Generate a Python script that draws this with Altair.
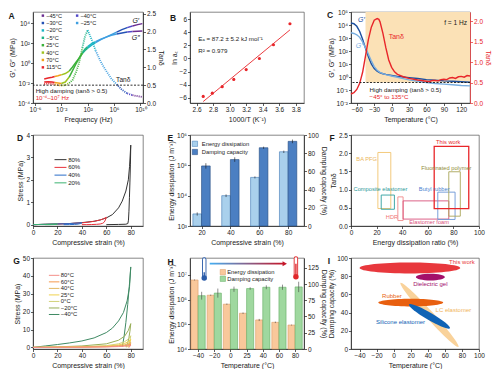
import math
import pandas as pd
import altair as alt

FONT = "Liberation Sans"
W1, W2, W3, WC, HT = 110, 114, 128, 119, 91
RED = "#e8262a"
INK = "#1a1a1a"

SUP = str.maketrans("0123456789-", "⁰¹²³⁴⁵⁶⁷⁸⁹⁻")


def pow10_label(e):
    return "10" + str(e).translate(SUP)


def log_expr(exps):
    expr = "''"
    for e in reversed(exps):
        expr = "round(log(datum.value)/LN10)==%d ? '%s' : (%s)" % (e, pow10_label(e), expr)
    return expr


def ax(**kw):
    return alt.Axis(labelOverlap=False, labelFlush=False, labelBound=False, tickCount=100, **kw)


def letter(s):
    return alt.TitleParams(text=s, anchor="start", frame="bounds", fontSize=8.5,
                           fontWeight="bold", font=FONT, dy=10, offset=0, color=INK)


def texts(rows, xs, ys, size=6.2, align="left", style="normal", weight="normal"):
    df = pd.DataFrame(rows, columns=["x", "y", "label", "color"])
    return alt.Chart(df).mark_text(align=align, baseline="middle", fontSize=size, font=FONT,
                                   fontStyle=style, fontWeight=weight).encode(
        x=alt.X("x:Q", scale=xs),
        y=alt.Y("y:Q", scale=ys),
        text="label:N",
        color=alt.Color("color:N", scale=None))


def lin(lo, hi):
    return alt.Scale(domain=[lo, hi], nice=False, zero=False)


def logs(lo, hi):
    return alt.Scale(type="log", domain=[lo, hi], nice=False)


# ======================= Panel A =======================
A_TEMPS = ["−45°C", "−40°C", "−30°C", "−25°C", "−20°C", "−5°C", "25°C", "40°C", "70°C", "115°C"]
A_COLORS = ["#6b2d90", "#5148c9", "#2452b5", "#3f9fe0", "#1db4c4", "#1fb387", "#3cb23a", "#9ec31f", "#f2a31b", "#e8262a"]
A_LOGF = [-4.6, -4.0, -3.4, -3.0, -2.5, -2.0, -1.4, -0.8, -0.3, 0.2, 0.7, 1.2, 1.6, 2.0, 2.6, 3.2, 4.0, 4.8, 5.6, 6.4, 7.2, 8.0, 8.8, 9.6, 10.3]
A_LOG_GP = [-1.6, -1.5, -1.42, -1.35, -1.27, -1.18, -1.05, -0.8, -0.4, 0.05, 0.5, 0.95, 1.25, 1.5, 1.8, 2.05, 2.35, 2.6, 2.85, 3.1, 3.35, 3.55, 3.72, 3.85, 3.95]
A_LOG_GPP = [-1.9, -1.88, -1.9, -1.95, -2.0, -2.05, -1.9, -1.4, -0.75, -0.1, 0.5, 1.05, 1.4, 1.65, 1.95, 2.15, 2.4, 2.6, 2.78, 2.92, 3.02, 3.1, 3.15, 3.18, 3.2]
A_TAN = [0.53, 0.55, 0.54, 0.52, 0.5, 0.49, 0.5, 0.56, 0.64, 0.85, 1.13, 1.55, 1.87, 2.04, 1.78, 1.47, 1.15, 0.9, 0.68, 0.52, 0.37, 0.27, 0.22, 0.19, 0.17]
A_SEG = ["115°C", "115°C", "115°C", "70°C", "70°C", "40°C", "40°C", "25°C", "25°C", "25°C", "25°C",
         "−5°C", "−5°C", "−20°C", "−20°C", "−25°C", "−25°C", "−25°C", "−25°C", "−30°C", "−30°C",
         "−40°C", "−45°C", "−45°C", "−45°C"]
A_LEG_COL1 = ["−45°C", "−30°C", "−20°C", "−5°C", "25°C", "40°C", "70°C", "115°C"]
A_LEG_COL2 = ["−40°C", "−25°C"]
A_X_EXP = [-6, -2, 2, 6, 10]
A_YL_EXP = [-4, -2, 0, 2, 4]
A_YR_TICKS = [0, 0.5, 1.0, 1.5, 2.0, 2.5]
A_CMAP = dict(zip(A_TEMPS, A_COLORS))

rows = []
for i in range(len(A_LOGF)):
    segs = [A_SEG[i]]
    if i > 0 and A_SEG[i - 1] != A_SEG[i]:
        segs.append(A_SEG[i - 1])
    for s in segs:
        rows.append({"f": 10 ** A_LOGF[i], "gp": 10 ** A_LOG_GP[i], "gpp": 10 ** A_LOG_GPP[i],
                     "tan": A_TAN[i], "seg": s, "c": A_CMAP[s], "o": i})
a_df = pd.DataFrame(rows)

a_x = logs(10 ** -6.3, 10 ** 10.4)
a_yl = logs(1e-4, 1.3e5)
a_yr = lin(0, 2.55)

a_gp = alt.Chart(a_df).mark_line(strokeWidth=1.5).encode(
    x=alt.X("f:Q", scale=a_x, axis=ax(values=[10.0 ** e for e in A_X_EXP], labelExpr=log_expr(A_X_EXP),
                                      title="Frequency (Hz)")),
    y=alt.Y("gp:Q", scale=a_yl, axis=ax(values=[10.0 ** e for e in A_YL_EXP], labelExpr=log_expr(A_YL_EXP),
                                        title="G′, G″ (MPa)", orient="left")),
    color=alt.Color("c:N", scale=None), detail="seg:N", order="o:Q")
a_gpp = alt.Chart(a_df).mark_line(strokeWidth=1.5).encode(
    x=alt.X("f:Q", scale=a_x), y=alt.Y("gpp:Q", scale=a_yl),
    color=alt.Color("c:N", scale=None), detail="seg:N", order="o:Q")

leg = []
for i, t in enumerate(A_LEG_COL1):
    leg.append({"mx": 10 ** -4.8, "tx": 10 ** -4.3, "y": 10 ** (4.75 - 0.74 * i), "label": t, "c": A_CMAP[t]})
for i, t in enumerate(A_LEG_COL2):
    leg.append({"mx": 10 ** 0.4, "tx": 10 ** 0.9, "y": 10 ** (4.75 - 0.74 * i), "label": t, "c": A_CMAP[t]})
a_leg_df = pd.DataFrame(leg)
a_leg_pt = alt.Chart(a_leg_df).mark_point(shape="square", filled=True, size=6, opacity=1).encode(
    x=alt.X("mx:Q", scale=a_x), y=alt.Y("y:Q", scale=a_yl), color=alt.Color("c:N", scale=None))
a_leg_tx = alt.Chart(a_leg_df).mark_text(align="left", baseline="middle", fontSize=5.6, font=FONT, color=INK).encode(
    x=alt.X("tx:Q", scale=a_x), y=alt.Y("y:Q", scale=a_yl), text="label:N")
a_lab = texts([(10 ** 9.3, 10 ** 4.25, "G′", INK), (10 ** 9.3, 10 ** 2.55, "G″", INK)], a_x, a_yl,
              size=7, align="center", style="italic")

a_tan = alt.Chart(a_df).mark_line(strokeWidth=1.8, strokeDash=[1, 1.1]).encode(
    x=alt.X("f:Q", scale=a_x),
    y=alt.Y("tan:Q", scale=a_yr, axis=ax(values=A_YR_TICKS, format=".1f", title="Tanδ", orient="right")),
    color=alt.Color("c:N", scale=None), detail="seg:N", order="o:Q")
a_rule = alt.Chart(pd.DataFrame({"t": [0.5]})).mark_rule(strokeDash=[2, 1.5], color=INK, strokeWidth=0.9).encode(
    y=alt.Y("t:Q", scale=a_yr))
a_rtx = texts([(10 ** -5.9, 0.33, "High damping (tanδ > 0.5)", INK),
               (10 ** -5.9, 0.13, "10⁻⁴–10⁷ Hz", RED)], a_x, a_yr, size=6.2)
a_rtx2 = texts([(10 ** 7.4, 0.64, "Tanδ", INK)], a_x, a_yr, size=6.6, align="center")

panel_a = alt.layer(
    alt.layer(a_gp, a_gpp, a_leg_pt, a_leg_tx, a_lab),
    alt.layer(a_tan, a_rule, a_rtx, a_rtx2)
).resolve_scale(y="independent").properties(width=W1, height=HT, title=letter("A"))

# ======================= Panel B =======================
B_X = [2.68, 2.79, 2.91, 3.05, 3.20, 3.36, 3.53, 3.73]
B_Y = [-5.8, -5.3, -4.3, -3.2, -1.7, 0.0, 2.1, 5.3]
B_XTICKS = [2.6, 2.8, 3.0, 3.2, 3.4, 3.6, 3.8]
B_YTICKS = [-6, -4, -2, 0, 2, 4, 6]
b_df = pd.DataFrame({"x": B_X, "y": B_Y})
b_x = lin(2.52, 3.9)
b_y = lin(-6.8, 7.1)
b_pts = alt.Chart(b_df).mark_point(filled=True, size=10, color=RED, opacity=1).encode(
    x=alt.X("x:Q", scale=b_x, axis=ax(values=B_XTICKS, format=".1f", title="1000/T (K⁻¹)")),
    y=alt.Y("y:Q", scale=b_y, axis=ax(values=B_YTICKS, format="d", title="ln aₜ")))
b_fit = alt.Chart(b_df).transform_regression("x", "y").mark_line(color=RED, strokeWidth=0.9).encode(
    x=alt.X("x:Q", scale=b_x), y=alt.Y("y:Q", scale=b_y))
b_tx = texts([(2.62, 2.9, "Eₐ = 87.2 ± 5.2 kJ mol⁻¹", INK), (2.62, 1.2, "R² = 0.979", INK)], b_x, b_y, size=6.2)
panel_b = alt.layer(b_pts, b_fit, b_tx).properties(width=W2, height=HT, title=letter("B"))

# ======================= Panel C =======================
C_T = [-70, -65, -60, -55, -50, -45, -40, -35, -30, -25, -20, -15, -10, 0, 10, 20, 30, 45, 60, 75, 90, 105, 120, 135]
C_LOG_GP = [4.15, 4.1, 3.9, 3.5, 2.9, 2.2, 1.55, 1.0, 0.65, 0.45, 0.32, 0.25, 0.2, 0.12, 0.05, 0.0, -0.05, -0.12, -0.2, -0.25, -0.3, -0.33, -0.37, -0.4]
C_LOG_GPP = [3.4, 3.35, 3.25, 3.05, 2.7, 2.25, 1.75, 1.25, 0.8, 0.52, 0.36, 0.26, 0.18, 0.08, -0.02, -0.12, -0.22, -0.33, -0.42, -0.5, -0.55, -0.6, -0.65, -0.68]
C_TAN_T = [-70, -65, -60, -55, -50, -45, -40, -35, -30, -25, -22, -20, -15, -10, -5, 0, 5, 10, 20, 30, 45, 60, 65, 70, 75, 80, 85, 90, 95, 100, 105, 110, 115, 120, 125, 130, 135]
C_TAN = [0.22, 0.25, 0.33, 0.48, 0.75, 1.15, 1.55, 1.85, 2.02, 2.06, 2.04, 1.98, 1.7, 1.35, 1.05, 0.87, 0.76, 0.7, 0.64, 0.6, 0.56, 0.53, 0.52, 0.55, 0.55, 0.54, 0.57, 0.58, 0.57, 0.61, 0.62, 0.6, 0.64, 0.65, 0.63, 0.67, 0.66]
C_XDOM = [-70, 135]
C_YL_LOG = [-2, 5]
C_YR_DOM = [0, 2.22]
C_HIGH = 0.5          # tan delta threshold
C_SHADE_T = [-45, 135]
C_XTICKS = [-60, -30, 0, 30, 60, 90, 120]
C_YL_EXP = [-2, -1, 0, 1, 2, 3, 4, 5]
C_YR_TICKS = [0, 0.5, 1.0, 1.5, 2.0]
C_DARK, C_LIGHT = "#1c4f9f", "#78addf"

c_x = lin(*C_XDOM)
c_yl = logs(10.0 ** C_YL_LOG[0], 10.0 ** C_YL_LOG[1])
c_yr = lin(*C_YR_DOM)
# the threshold tan delta = 0.5 expressed on the left (log) axis, so the shade sits under the curves
c_thr_left = 10 ** (C_YL_LOG[0] + (C_YL_LOG[1] - C_YL_LOG[0]) * (C_HIGH - C_YR_DOM[0]) / (C_YR_DOM[1] - C_YR_DOM[0]))
c_df = pd.DataFrame({"T": C_T, "gp": [10 ** v for v in C_LOG_GP], "gpp": [10 ** v for v in C_LOG_GPP]})
c_tdf = pd.DataFrame({"T": C_TAN_T, "tan": C_TAN})

c_shade = alt.Chart(pd.DataFrame({"x0": [C_SHADE_T[0]], "x1": [C_SHADE_T[1]], "y0": [c_thr_left],
                                  "y1": [10.0 ** C_YL_LOG[1]]})).mark_rect(color="#fbe1b6", opacity=1).encode(
    x=alt.X("x0:Q", scale=c_x), x2="x1:Q", y=alt.Y("y0:Q", scale=c_yl), y2="y1:Q")
c_gp = alt.Chart(c_df).mark_line(strokeWidth=1.4, color=C_DARK).encode(
    x=alt.X("T:Q", scale=c_x, axis=ax(values=C_XTICKS, format="d", title="Temperature (°C)")),
    y=alt.Y("gp:Q", scale=c_yl, axis=ax(values=[10.0 ** e for e in C_YL_EXP], labelExpr=log_expr(C_YL_EXP),
                                        title="G′, G″ (MPa)", orient="left")))
c_gpp = alt.Chart(c_df).mark_line(strokeWidth=1.4, color=C_LIGHT).encode(
    x=alt.X("T:Q", scale=c_x), y=alt.Y("gpp:Q", scale=c_yl))
c_glab1 = texts([(-52, 10 ** 4.35, "G′", C_DARK)], c_x, c_yl, size=7, align="center", style="italic")
c_glab2 = texts([(-55, 10 ** 2.35, "G″", C_LIGHT)], c_x, c_yl, size=7, align="center", style="italic")
c_tan = alt.Chart(c_tdf).mark_line(strokeWidth=1.4, color=RED).encode(
    x=alt.X("T:Q", scale=c_x),
    y=alt.Y("tan:Q", scale=c_yr, axis=ax(values=C_YR_TICKS, format=".1f", title="Tanδ", orient="right",
                                         labelColor=RED, titleColor=RED, domainColor=RED, tickColor=RED)))
c_rule = alt.Chart(pd.DataFrame({"t": [C_HIGH]})).mark_rule(strokeDash=[2, 1.5], color=INK, strokeWidth=0.9).encode(
    y=alt.Y("t:Q", scale=c_yr))
c_tx1 = texts([(8, 1.62, "Tanδ", RED)], c_x, c_yr, size=7, align="center")
c_tx2 = texts([(130, 1.95, "f = 1 Hz", INK)], c_x, c_yr, size=6.6, align="right")
c_tx3 = texts([(-38, 0.31, "High damping (tanδ > 0.5)", INK), (-38, 0.15, "−45° to 135°C", RED)], c_x, c_yr, size=6.2)

panel_c = alt.layer(
    alt.layer(c_shade, c_gp, c_gpp, c_glab1, c_glab2),
    alt.layer(c_tan, c_rule, c_tx1, c_tx2, c_tx3)
).resolve_scale(y="independent").properties(width=WC, height=HT, title=letter("C"))

# ======================= Panel D =======================
D_SERIES = ["80%", "60%", "40%", "20%"]
D_COLORS = ["#333333", "#e8303a", "#2a6dc8", "#3cb371"]
D80_STRAIN = [0, 10, 20, 30, 40, 50, 55, 60, 65, 70, 73, 76, 78, 79, 80, 79.7, 79.3, 78.9, 78.5, 78.1, 77.6, 76, 70, 60]
D80_STRESS = [0, 0.015, 0.03, 0.05, 0.09, 0.15, 0.21, 0.3, 0.45, 0.75, 1.05, 1.5, 2.0, 2.6, 3.55, 2.7, 1.9, 1.2, 0.6, 0.2, 0.05, 0.02, 0.01, 0.0]
D60_STRAIN = [0, 10, 20, 30, 40, 45, 50, 55, 58, 60, 59.5, 58.8, 58, 57, 55, 52, 48, 44, 40]
D60_STRESS = [0, 0.015, 0.03, 0.05, 0.08, 0.11, 0.15, 0.21, 0.27, 0.33, 0.25, 0.16, 0.1, 0.06, 0.03, 0.015, 0.005, 0.0, 0.0]
D40_STRAIN = [0, 10, 20, 30, 35, 40, 39, 37, 34, 30, 25]
D40_STRESS = [0, 0.015, 0.03, 0.05, 0.065, 0.085, 0.05, 0.025, 0.01, 0.003, 0.0]
D20_STRAIN = [0, 5, 10, 15, 20, 19, 17, 14, 10]
D20_STRESS = [0, 0.008, 0.015, 0.022, 0.03, 0.015, 0.006, 0.002, 0.0]
D_XTICKS = [0, 20, 40, 60, 80]
D_YTICKS = [0, 1, 2, 3, 4]

rows = []
for name, col, xs_, ys_ in zip(D_SERIES, D_COLORS, [D80_STRAIN, D60_STRAIN, D40_STRAIN, D20_STRAIN],
                               [D80_STRESS, D60_STRESS, D40_STRESS, D20_STRESS]):
    for j, (a, b) in enumerate(zip(xs_, ys_)):
        rows.append({"name": name, "c": col, "x": a, "y": b, "o": j})
d_df = pd.DataFrame(rows)
d_x = lin(0, 90)
d_y = lin(-0.06, 4)
d_lines = alt.Chart(d_df).mark_line(strokeWidth=1.0).encode(
    x=alt.X("x:Q", scale=d_x, axis=ax(values=D_XTICKS, format="d", title="Compressive strain (%)")),
    y=alt.Y("y:Q", scale=d_y, axis=ax(values=D_YTICKS, format="d", title="Stress (MPa)")),
    color=alt.Color("c:N", scale=None), detail="name:N", order="o:Q")
d_leg_df = pd.DataFrame({"name": D_SERIES, "c": D_COLORS, "x0": [17.6] * 4, "x1": [27.4] * 4, "tx": [28.8] * 4,
                         "y": [2.9 - 0.345 * i for i in range(4)]})
d_leg_l = alt.Chart(d_leg_df).mark_rule(strokeWidth=1.0).encode(
    x=alt.X("x0:Q", scale=d_x), x2="x1:Q", y=alt.Y("y:Q", scale=d_y), color=alt.Color("c:N", scale=None))
d_leg_t = alt.Chart(d_leg_df).mark_text(align="left", baseline="middle", fontSize=6, font=FONT, color=INK).encode(
    x=alt.X("tx:Q", scale=d_x), y=alt.Y("y:Q", scale=d_y), text="name:N")
panel_d = alt.layer(d_lines, d_leg_l, d_leg_t).properties(width=W1, height=HT, title=letter("D"))

# ======================= Panel E =======================
E_STRAIN = [20, 40, 60, 80]
E_ENERGY = [2.5e3, 1.0e4, 4.0e4, 2.8e5]
E_ENERGY_ERR = [0.3e3, 1.0e3, 3.0e3, 2.5e4]
E_DAMP = [66, 73, 86, 93]
E_DAMP_ERR = [3, 2.5, 1.2, 2]
E_BAR = 6
E_BASE = 1e3
E_YL_EXP = [3, 4, 5, 6]
E_YR_TICKS = [0, 20, 40, 60, 80, 100]
E_FILL = ["#a9d0ec", "#4b7fc2"]
E_EDGE = ["#3f78b5", "#24497f"]
E_LEG = ["Energy dissipation", "Damping capacity"]

e_x = lin(12, 91)
e_yl = logs(1e3, 1e6)
e_yr = lin(0, 100)
e_en = pd.DataFrame({"x0": [s - E_BAR for s in E_STRAIN], "x1": E_STRAIN, "xc": [s - E_BAR / 2 for s in E_STRAIN],
                     "v": E_ENERGY, "lo": [v - e for v, e in zip(E_ENERGY, E_ENERGY_ERR)],
                     "hi": [v + e for v, e in zip(E_ENERGY, E_ENERGY_ERR)], "base": [E_BASE] * 4})
e_dp = pd.DataFrame({"x0": E_STRAIN, "x1": [s + E_BAR for s in E_STRAIN], "xc": [s + E_BAR / 2 for s in E_STRAIN],
                     "v": E_DAMP, "lo": [v - e for v, e in zip(E_DAMP, E_DAMP_ERR)],
                     "hi": [v + e for v, e in zip(E_DAMP, E_DAMP_ERR)], "base": [0] * 4})
e_bar1 = alt.Chart(e_en).mark_rect(fill=E_FILL[0], stroke=E_EDGE[0], strokeWidth=0.6).encode(
    x=alt.X("x0:Q", scale=e_x, axis=ax(values=E_STRAIN, format="d", title="Compressive strain (%)")), x2="x1:Q",
    y=alt.Y("v:Q", scale=e_yl, axis=ax(values=[10.0 ** e for e in E_YL_EXP], labelExpr=log_expr(E_YL_EXP),
                                       title="Energy dissipation (J m⁻³)", orient="left")), y2="base:Q")
e_err1 = alt.Chart(e_en).mark_rule(color=INK, strokeWidth=0.6).encode(
    x=alt.X("xc:Q", scale=e_x), y=alt.Y("lo:Q", scale=e_yl), y2="hi:Q")
e_leg_df = pd.DataFrame({"x": [15.4, 15.4], "tx": [20.2, 20.2], "y": [10 ** 5.71, 10 ** 5.44],
                         "label": E_LEG, "f": E_FILL, "s": E_EDGE})
e_leg_p = alt.Chart(e_leg_df).mark_point(shape="square", filled=True, size=28, opacity=1, strokeWidth=0.5).encode(
    x=alt.X("x:Q", scale=e_x), y=alt.Y("y:Q", scale=e_yl),
    fill=alt.Fill("f:N", scale=None), stroke=alt.Stroke("s:N", scale=None))
e_leg_t = alt.Chart(e_leg_df).mark_text(align="left", baseline="middle", fontSize=5.8, font=FONT, color=INK).encode(
    x=alt.X("tx:Q", scale=e_x), y=alt.Y("y:Q", scale=e_yl), text="label:N")
e_bar2 = alt.Chart(e_dp).mark_rect(fill=E_FILL[1], stroke=E_EDGE[1], strokeWidth=0.6).encode(
    x=alt.X("x0:Q", scale=e_x), x2="x1:Q",
    y=alt.Y("v:Q", scale=e_yr, axis=ax(values=E_YR_TICKS, format="d", title="Damping capacity (%)", orient="right")),
    y2="base:Q")
e_err2 = alt.Chart(e_dp).mark_rule(color=INK, strokeWidth=0.6).encode(
    x=alt.X("xc:Q", scale=e_x), y=alt.Y("lo:Q", scale=e_yr), y2="hi:Q")
panel_e = alt.layer(
    alt.layer(e_bar1, e_err1, e_leg_p, e_leg_t),
    alt.layer(e_bar2, e_err2)
).resolve_scale(y="independent").properties(width=W2, height=HT, title=letter("E"))

# ======================= Panel F =======================
F_NAMES = ["BA PFG", "Composite elastomer", "HDR", "Elastomer foam", "Butyl rubber", "Fluorinated polymer", "This work"]
F_X1 = [21.0, 23.6, 36.6, 40.7, 67.8, 76.4, 65.0]
F_X2 = [31.1, 33.9, 40.7, 76.4, 81.3, 85.4, 92.0]
F_Y1 = [0.48, 0.46, 0.15, 0.19, 0.18, 0.27, 0.48]
F_Y2 = [2.02, 0.85, 0.80, 0.69, 0.93, 1.49, 2.19]
F_COLORS = ["#f2c46e", "#2e9e9e", "#f08a8a", "#d9507a", "#6b95d6", "#aaa65a", "#e8262a"]
F_TEXT_COLORS = ["#eab55a", "#2a9898", "#f07676", "#d9507a", "#4a7fcf", "#8f8c3a", "#e8262a"]
F_LX = [12.2, 23.0, 32.0, 61.0, 65.0, 74.5, 76.0]
F_LY = [1.83, 1.02, 0.25, 0.10, 1.03, 1.58, 2.31]
F_WIDTHS = [0.9, 0.9, 0.9, 0.9, 0.9, 0.9, 1.3]
F_XTICKS = [0, 20, 40, 60, 80, 100]
F_YTICKS = [0, 0.5, 1.0, 1.5, 2.0, 2.5]
f_x = lin(0, 100)
f_y = lin(0, 2.5)
f_df = pd.DataFrame({"x1": F_X1, "x2": F_X2, "y1": F_Y1, "y2": F_Y2, "c": F_COLORS, "w": F_WIDTHS})
f_rect = alt.Chart(f_df).mark_rect(fillOpacity=0).encode(
    x=alt.X("x1:Q", scale=f_x, axis=ax(values=F_XTICKS, format="d", title="Energy dissipation ratio (%)")), x2="x2:Q",
    y=alt.Y("y1:Q", scale=f_y, axis=ax(values=F_YTICKS, format=".1f", title="Tanδ")), y2="y2:Q",
    stroke=alt.Stroke("c:N", scale=None), strokeWidth=alt.StrokeWidth("w:Q", scale=None))
f_tx = texts(list(zip(F_LX, F_LY, F_NAMES, F_TEXT_COLORS)), f_x, f_y, size=5.7, align="center")
panel_f = alt.layer(f_rect, f_tx).properties(width=W3, height=HT, title=letter("F"))

# ======================= Panel G =======================
G_SERIES = ["80°C", "60°C", "40°C", "25°C", "0°C", "−20°C", "−40°C"]
G_COLORS = ["#f4908a", "#f59a4e", "#e2b863", "#f0d24e", "#d2d27a", "#98ae57", "#3f8a64"]
G80_STRAIN = [0, 20, 40, 60, 70, 75, 78, 80, 79.5, 78.8, 78.4]
G80_STRESS = [0, 0.04, 0.1, 0.25, 0.45, 0.65, 0.95, 1.3, 0.6, 0.2, 0.05]
G60_STRAIN = [0, 20, 40, 60, 70, 75, 78, 80, 79.4, 78.7, 78.2]
G60_STRESS = [0, 0.05, 0.15, 0.35, 0.7, 1.0, 1.45, 2.0, 1.0, 0.35, 0.1]
G40_STRAIN = [0, 20, 40, 60, 70, 75, 78, 80, 79.3, 78.5, 78.0]
G40_STRESS = [0, 0.08, 0.2, 0.5, 1.0, 1.5, 2.2, 3.0, 1.6, 0.6, 0.2]
G25_STRAIN = [0, 20, 40, 60, 70, 75, 78, 80, 79.3, 78.5, 77.5, 77.0]
G25_STRESS = [0, 0.1, 0.3, 0.7, 1.4, 2.2, 3.2, 4.5, 2.8, 1.4, 0.5, 0.15]
G0_STRAIN = [0, 20, 40, 60, 70, 75, 78, 80, 79.3, 78.5, 77.5, 76.5]
G0_STRESS = [0, 0.15, 0.4, 1.0, 2.0, 3.2, 4.6, 6.5, 4.0, 2.2, 0.8, 0.2]
GN20_STRAIN = [0, 20, 40, 60, 70, 75, 78, 80, 79.3, 78.5, 77.5, 76.5, 76.0]
GN20_STRESS = [0, 0.3, 0.8, 2.0, 4.0, 6.3, 9.5, 13.3, 9.0, 5.5, 2.5, 0.8, 0.2]
GN40_STRAIN = [0, 10, 20, 30, 40, 50, 60, 65, 70, 74, 77, 79, 80, 79, 77.5, 76, 74.5, 73.5, 73]
GN40_STRESS = [0, 0.8, 1.6, 2.5, 3.6, 5.3, 8.3, 10.8, 14.8, 19.5, 26, 34, 45, 36, 24, 14, 6, 2, 0.3]
G_XTICKS = [0, 20, 40, 60, 80]
G_YTICKS = [0, 10, 20, 30, 40, 50]

g_curves = list(zip(G_SERIES, G_COLORS,
                    [G80_STRAIN, G60_STRAIN, G40_STRAIN, G25_STRAIN, G0_STRAIN, GN20_STRAIN, GN40_STRAIN],
                    [G80_STRESS, G60_STRESS, G40_STRESS, G25_STRESS, G0_STRESS, GN20_STRESS, GN40_STRESS]))
rows = []
for name, col, xs_, ys_ in reversed(g_curves):
    for j, (a, b) in enumerate(zip(xs_, ys_)):
        rows.append({"name": name, "c": col, "x": a, "y": b, "o": j})
g_df = pd.DataFrame(rows)
g_x = lin(0, 90)
g_y = lin(-0.9, 50)
g_lines = alt.Chart(g_df).mark_line(strokeWidth=1.0).encode(
    x=alt.X("x:Q", scale=g_x, axis=ax(values=G_XTICKS, format="d", title="Compressive strain (%)")),
    y=alt.Y("y:Q", scale=g_y, axis=ax(values=G_YTICKS, format="d", title="Stress (MPa)")),
    color=alt.Color("c:N", scale=None), detail="name:N", order="o:Q")
g_leg_df = pd.DataFrame({"name": G_SERIES, "c": G_COLORS, "x0": [13.0] * 7, "x1": [21.6] * 7, "tx": [22.8] * 7,
                         "y": [40.3 - 3.65 * i for i in range(7)]})
g_leg_l = alt.Chart(g_leg_df).mark_rule(strokeWidth=1.0).encode(
    x=alt.X("x0:Q", scale=g_x), x2="x1:Q", y=alt.Y("y:Q", scale=g_y), color=alt.Color("c:N", scale=None))
g_leg_t = alt.Chart(g_leg_df).mark_text(align="left", baseline="middle", fontSize=5.8, font=FONT, color=INK).encode(
    x=alt.X("tx:Q", scale=g_x), y=alt.Y("y:Q", scale=g_y), text="name:N")
panel_g = alt.layer(g_lines, g_leg_l, g_leg_t).properties(width=W1, height=HT, title=letter("G"))

# ======================= Panel H =======================
H_TEMPS = ["−40", "−20", "0", "25", "40", "60", "80"]
H_ENERGY = [6.2e6, 1.5e6, 6.5e5, 2.8e5, 1.5e5, 1.2e5, 9.3e4]
H_ENERGY_ERR = [3e5, 8e4, 4e4, 2e4, 1.5e4, 8e3, 4e3]
H_DAMP = [82, 86, 92, 93, 95, 95, 95.5]
H_DAMP_ERR = [6, 7, 4, 2, 3, 4, 8]
H_BAR = 0.44
H_BASE = 1e4
H_YL_EXP = [4, 5, 6, 7]
H_YR_TICKS = [0, 25, 50, 75, 100, 125]
H_FILL = ["#f9c89b", "#9fd89f"]
H_EDGE = ["#dc9a66", "#63ad63"]
H_LEG = ["Energy dissipation", "Damping capacity"]
H_IDX = list(range(len(H_TEMPS)))

h_x = lin(-0.5, 6.55)
h_yl = logs(1e4, 4.8e7)
h_yr = lin(0, 140)
h_en = pd.DataFrame({"x0": [i - H_BAR for i in H_IDX], "x1": H_IDX, "xc": [i - H_BAR / 2 for i in H_IDX],
                     "v": H_ENERGY, "lo": [v - e for v, e in zip(H_ENERGY, H_ENERGY_ERR)],
                     "hi": [v + e for v, e in zip(H_ENERGY, H_ENERGY_ERR)], "base": [H_BASE] * 7})
h_dp = pd.DataFrame({"x0": H_IDX, "x1": [i + H_BAR for i in H_IDX], "xc": [i + H_BAR / 2 for i in H_IDX],
                     "v": H_DAMP, "lo": [v - e for v, e in zip(H_DAMP, H_DAMP_ERR)],
                     "hi": [v + e for v, e in zip(H_DAMP, H_DAMP_ERR)], "base": [0] * 7})
h_label_expr = "[" + ",".join("'%s'" % t for t in H_TEMPS) + "][datum.value]"
h_bar1 = alt.Chart(h_en).mark_rect(fill=H_FILL[0], stroke=H_EDGE[0], strokeWidth=0.6).encode(
    x=alt.X("x0:Q", scale=h_x, axis=ax(values=H_IDX, labelExpr=h_label_expr, title="Temperature (°C)")),
    x2="x1:Q",
    y=alt.Y("v:Q", scale=h_yl, axis=ax(values=[10.0 ** e for e in H_YL_EXP], labelExpr=log_expr(H_YL_EXP),
                                       title="Energy dissipation (J m⁻³)", orient="left")), y2="base:Q")
h_err1 = alt.Chart(h_en).mark_rule(color="#444", strokeWidth=0.6).encode(
    x=alt.X("xc:Q", scale=h_x), y=alt.Y("lo:Q", scale=h_yl), y2="hi:Q")
h_leg_df = pd.DataFrame({"x": [1.53, 1.53], "tx": [1.8, 1.8], "y": [10 ** 7.11, 10 ** 6.84],
                         "label": H_LEG, "f": H_FILL, "s": H_EDGE})
h_leg_p = alt.Chart(h_leg_df).mark_point(shape="square", filled=True, size=28, opacity=1, strokeWidth=0.5).encode(
    x=alt.X("x:Q", scale=h_x), y=alt.Y("y:Q", scale=h_yl),
    fill=alt.Fill("f:N", scale=None), stroke=alt.Stroke("s:N", scale=None))
h_leg_t = alt.Chart(h_leg_df).mark_text(align="left", baseline="middle", fontSize=5.8, font=FONT, color=INK).encode(
    x=alt.X("tx:Q", scale=h_x), y=alt.Y("y:Q", scale=h_yl), text="label:N")
grad = alt.LinearGradient(gradient="linear",
                          stops=[alt.GradientStop(color="#43aef2", offset=0),
                                 alt.GradientStop(color="#c4182a", offset=1)],
                          x1=0, x2=1, y1=0, y2=0)
h_arrow = alt.Chart(pd.DataFrame({"x0": [0.72], "x1": [5.25], "y0": [10 ** 7.415], "y1": [10 ** 7.485]})).mark_rect(
    fill=grad).encode(x=alt.X("x0:Q", scale=h_x), x2="x1:Q", y=alt.Y("y0:Q", scale=h_yl), y2="y1:Q")
h_head = alt.Chart(pd.DataFrame({"x": [5.36], "y": [10 ** 7.45]})).mark_point(
    shape="triangle-right", filled=True, size=26, color="#c4182a", opacity=1).encode(
    x=alt.X("x:Q", scale=h_x), y=alt.Y("y:Q", scale=h_yl))
h_th = pd.DataFrame({"x": [0.38, 6.05], "top": [10 ** 7.62, 10 ** 7.66], "bot": [10 ** 6.95, 10 ** 7.0],
                     "mid": [10 ** 7.1, 10 ** 7.45], "bulb": [10 ** 6.87, 10 ** 6.92], "c": ["#2a5ba8", "#e0262a"]})
h_t1 = alt.Chart(h_th).mark_rule(strokeWidth=4.4, strokeCap="round").encode(
    x=alt.X("x:Q", scale=h_x), y=alt.Y("bot:Q", scale=h_yl), y2="top:Q", color=alt.Color("c:N", scale=None))
h_t2 = alt.Chart(h_th).mark_rule(strokeWidth=2.6, strokeCap="round", color="white").encode(
    x=alt.X("x:Q", scale=h_x), y=alt.Y("bot:Q", scale=h_yl), y2="top:Q")
h_t3 = alt.Chart(h_th).mark_rule(strokeWidth=1.4).encode(
    x=alt.X("x:Q", scale=h_x), y=alt.Y("bot:Q", scale=h_yl), y2="mid:Q", color=alt.Color("c:N", scale=None))
h_t4 = alt.Chart(h_th).mark_point(shape="circle", filled=True, size=30, opacity=1).encode(
    x=alt.X("x:Q", scale=h_x), y=alt.Y("bulb:Q", scale=h_yl), color=alt.Color("c:N", scale=None))
h_bar2 = alt.Chart(h_dp).mark_rect(fill=H_FILL[1], stroke=H_EDGE[1], strokeWidth=0.6).encode(
    x=alt.X("x0:Q", scale=h_x), x2="x1:Q",
    y=alt.Y("v:Q", scale=h_yr, axis=ax(values=H_YR_TICKS, format="d", title="Damping capacity (%)", orient="right")),
    y2="base:Q")
h_err2 = alt.Chart(h_dp).mark_rule(color="#444", strokeWidth=0.6).encode(
    x=alt.X("xc:Q", scale=h_x), y=alt.Y("lo:Q", scale=h_yr), y2="hi:Q")
panel_h = alt.layer(
    alt.layer(h_bar1, h_err1, h_leg_p, h_leg_t, h_arrow, h_head, h_t1, h_t2, h_t3, h_t4),
    alt.layer(h_bar2, h_err2)
).resolve_scale(y="independent").properties(width=W2, height=HT, title=letter("H"))

# ======================= Panel I =======================
I_NAMES = ["LC elastomer", "Rubber", "Silicone elastomer", "This work", "Dielectric gel"]
I_T1 = [8, -18, 18, -40, 26]
I_D1 = [72.8, 51, 49, 89, 79]
I_T2 = [76, 58, 66, 78, 60]
I_D2 = [2.3, 51, 22.8, 89, 79]
I_HALF = [4.4, 4.3, 4.0, 6.0, 3.8]
I_COLORS = ["#f9d29a", "#e85f0f", "#0f63b5", "#e8383d", "#a3106b"]
I_LAB = ["This work", "Dielectric gel", "Rubber", "LC elastomer", "Silicone elastomer"]
I_LX = [80, 43, -2, 70, 8]
I_LY = [96, 71, 58.5, 43, 29.6]
I_LAB_COLORS = ["#e8383d", "#a3106b", "#e85f0f", "#f0b45a", "#0f63b5"]
I_XD = [-50, 100]
I_YD = [0, 100]
I_XTICKS = [-40, -20, 0, 20, 40, 60, 80, 100]
I_YTICKS = [0, 20, 40, 60, 80, 100]

ppx = W3 / (I_XD[1] - I_XD[0])
ppy = HT / (I_YD[1] - I_YD[0])
K = 0.5523


def ellipse_path(r):
    return ("M-1,0C-1,{a} {b},{c} 0,{c}C{k},{c} 1,{a} 1,0C1,{ma} {k},{r} 0,{r}C{b},{r} -1,{ma} -1,0Z"
            .format(a=-K * r, b=-K, c=-r, k=K, ma=K * r, r=r))


erows = []
for n, t1, d1, t2, d2, hh, col in zip(I_NAMES, I_T1, I_D1, I_T2, I_D2, I_HALF, I_COLORS):
    dx = (t2 - t1) * ppx
    dy = -(d2 - d1) * ppy
    L = math.hypot(dx, dy)
    ang = math.degrees(math.atan2(dy, dx)) % 360
    minor = 2 * hh * ppy
    erows.append({"name": n, "cx": (t1 + t2) / 2, "cy": (d1 + d2) / 2, "size": L * L,
                  "angle": ang, "shape": ellipse_path(minor / L), "c": col})
i_df = pd.DataFrame(erows)
i_x = lin(*I_XD)
i_y = lin(*I_YD)
i_ell = alt.Chart(i_df).mark_point(filled=True, opacity=1, strokeWidth=0).encode(
    x=alt.X("cx:Q", scale=i_x, axis=ax(values=I_XTICKS, format="d", title="Temperature (°C)")),
    y=alt.Y("cy:Q", scale=i_y, axis=ax(values=I_YTICKS, format="d", title="Damping capacity (%)")),
    size=alt.Size("size:Q", scale=None), angle=alt.Angle("angle:Q", scale=None),
    shape=alt.Shape("shape:N", scale=None), fill=alt.Fill("c:N", scale=None))
i_tx = texts(list(zip(I_LX, I_LY, I_LAB, I_LAB_COLORS)), i_x, i_y, size=6, align="center")
panel_i = alt.layer(i_ell, i_tx).properties(width=W3, height=HT, title=letter("I"))

# ======================= Assemble =======================
chart = alt.concat(
    panel_a, panel_b, panel_c, panel_d, panel_e, panel_f, panel_g, panel_h, panel_i,
    columns=3, spacing={"row": 32, "column": 47}, bounds="flush", align="each"
).properties(
    padding={"left": 0, "right": 0, "top": 0, "bottom": 0}
).configure_axis(
    labelFont=FONT, titleFont=FONT, labelFontSize=6.5, titleFontSize=7, titleFontWeight="normal",
    tickSize=2.5, tickWidth=0.7, domainWidth=0.7, domainColor=INK, tickColor=INK,
    labelColor=INK, titleColor=INK, labelPadding=1, titlePadding=2, grid=False
).configure_view(
    stroke="#555", strokeWidth=0.7
).configure_text(font=FONT)

chart.save("out.html", embed_options={"renderer": "svg", "actions": False})
